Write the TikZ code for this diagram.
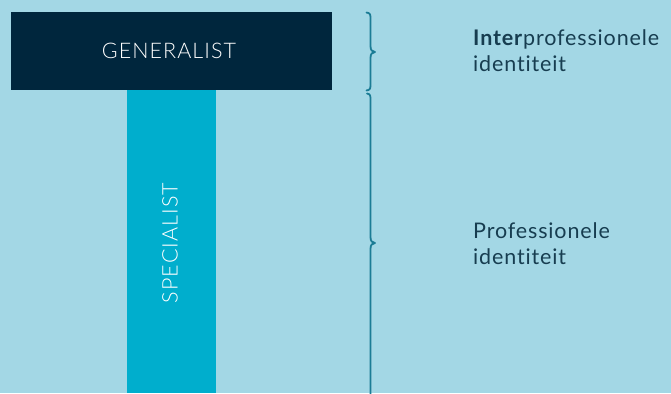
\documentclass[tikz,border=0pt]{standalone}
\usepackage{fontspec}
\setmainfont{Lato}[Ligatures=NoCommon]
\newfontfamily\lightfont{Lato Light}[Ligatures=NoCommon, LetterSpace=5]
\newfontfamily\labelfont{Lato}[Ligatures=NoCommon, LetterSpace=4, BoldFont={Lato Bold}]
\definecolor{bgblue}{HTML}{A3D7E5}
\definecolor{darknavy}{HTML}{00263D}
\definecolor{barcyan}{HTML}{00AECD}
\definecolor{bracecol}{HTML}{1B7C95}
\definecolor{txtcol}{HTML}{173D50}
\tikzset{
  labeltxt/.style={anchor=base west, inner sep=0pt, text=txtcol, align=left,
    font=\labelfont\fontsize{21.5}{26}\selectfont},
  boxtxt/.style={text=white, inner sep=0pt, font=\lightfont\fontsize{21.5}{24}\selectfont},
  bracepath/.style={draw=bracecol, line width=1.8pt, line cap=round, line join=round},
}
\begin{document}
\begin{tikzpicture}[x=1pt,y=-1pt]
\fill[bgblue] (0,0) rectangle (671,393);
\useasboundingbox (0,0) rectangle (671,393);
% boxes
\fill[darknavy] (11,12) rectangle (332,90);
\fill[barcyan] (127,90) rectangle (216,393);
\node[boxtxt] (gen) at (169,50.5) {GENERALIST};
\node[boxtxt, rotate=90] (spec) at (170,243) {SPECIALIST};
% braces
\coordinate (b1top) at (366.5,12.5);
\coordinate (b1tip) at (375,52);
\coordinate (b1bot) at (366.5,90.5);
\coordinate (b2top) at (367,93.5);
\coordinate (b2tip) at (375,243);
\draw[bracepath] (b1top) .. controls (370.5,13) and (370.5,15) .. (370.5,19)
  -- (370.5,46) .. controls (370.5,50) and (372,52) .. (b1tip)
  .. controls (372,52) and (370.5,54) .. (370.5,58)
  -- (370.5,84) .. controls (370.5,88) and (370.5,90) .. (b1bot);
\draw[bracepath] (b2top) .. controls (370.5,94) and (370.5,96) .. (370.5,100)
  -- (370.5,237) .. controls (370.5,241) and (372,243) .. (b2tip)
  .. controls (372,243) and (370.5,245) .. (370.5,249)
  -- (370.5,400);
% labels
\node[labeltxt] (inter) at (473,71.7) {\textbf{Inter}professionele\\identiteit};
\node[labeltxt] (prof) at (473,264) {Professionele\\identiteit};
\end{tikzpicture}
\end{document}
